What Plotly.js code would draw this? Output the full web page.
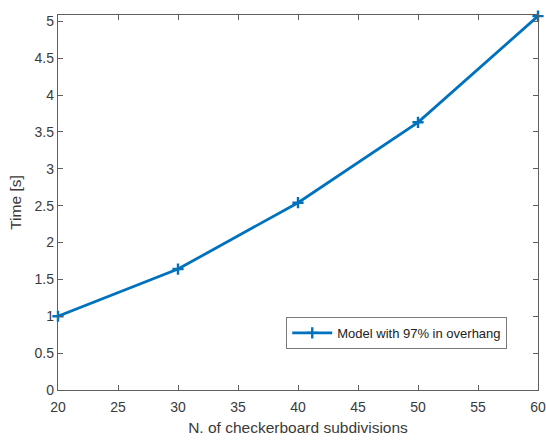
<!DOCTYPE html>
<html>
<head>
<meta charset="utf-8">
<script src="https://cdn.plot.ly/plotly-3.0.1.min.js"></script>
<style>
  html, body { margin: 0; padding: 0; background: #fff; }
  #chart { width: 546px; height: 440px; }
</style>
</head>
<body>
<div id="chart"></div>
<script>
// Checkerboard subdivisions vs. computation time
const subdivisions = [20, 30, 40, 50, 60];
const timeSeconds = [1.0, 1.64, 2.54, 3.63, 5.07];
const seriesName = 'Model with 97% in overhang';
const xTicks = [20, 25, 30, 35, 40, 45, 50, 55, 60];
const yTicks = [0, 0.5, 1, 1.5, 2, 2.5, 3, 3.5, 4, 4.5, 5];

const axisColor = '#5f5f5f';
const textColor = '#3a3a3a';
const fontFamily = 'Liberation Sans, Arial, sans-serif';

const trace = {
  x: subdivisions,
  y: timeSeconds,
  name: seriesName,
  type: 'scatter',
  mode: 'lines+markers',
  line: { color: '#0072BD', width: 2.8 },
  marker: { symbol: 'cross-thin', size: 8, color: '#0072BD',
            line: { color: '#0072BD', width: 2.4 } },
  cliponaxis: false,
  showlegend: true
};

const axisCommon = {
  showline: true,
  linecolor: axisColor,
  linewidth: 1.2,
  mirror: 'ticks',
  ticks: 'inside',
  ticklen: 5,
  tickwidth: 1,
  tickcolor: axisColor,
  showgrid: false,
  zeroline: false,
  tickfont: { family: fontFamily, size: 14, color: textColor }
};

const layout = {
  width: 546,
  height: 440,
  margin: { l: 57.5, r: 8, t: 15, b: 50 },
  paper_bgcolor: '#ffffff',
  plot_bgcolor: '#ffffff',
  font: { family: fontFamily, color: textColor },
  xaxis: Object.assign({}, axisCommon, {
    range: [20, 60],
    tickvals: xTicks,
    ticktext: xTicks.map(String),
    ticklabelstandoff: 4,
    title: { text: 'N. of checkerboard subdivisions',
             font: { family: fontFamily, size: 15.5, color: textColor },
             standoff: 8 }
  }),
  yaxis: Object.assign({}, axisCommon, {
    range: [0, 5.085],
    tickvals: yTicks,
    ticktext: yTicks.map(String),
    title: { text: 'Time [s]',
             font: { family: fontFamily, size: 15.5, color: textColor },
             standoff: 9 }
  }),
  legend: {
    x: 0.4755, y: 0.195,
    xanchor: 'left', yanchor: 'top',
    bgcolor: '#ffffff',
    bordercolor: '#7a7a7a',
    borderwidth: 1,
    font: { family: fontFamily, size: 13, color: '#222222' },
    itemwidth: 40,
    tracegroupgap: 0
  }
};

Plotly.newPlot('chart', [trace], layout, { displayModeBar: false, staticPlot: true });
</script>
</body>
</html>
